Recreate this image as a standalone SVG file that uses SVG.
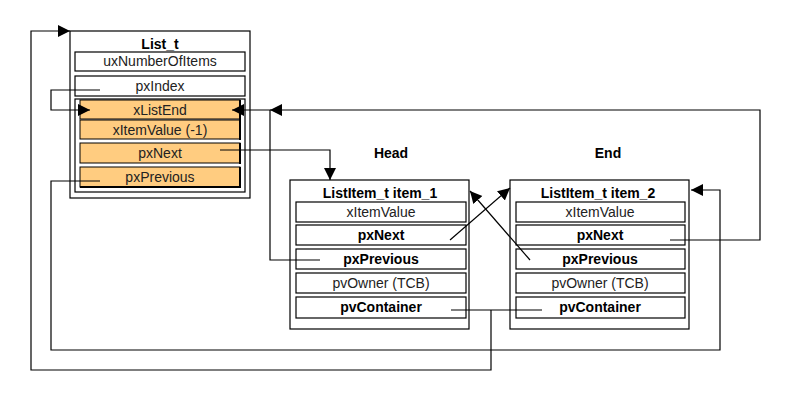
<svg xmlns="http://www.w3.org/2000/svg" width="800" height="410" viewBox="0 0 800 410">
<defs>
<marker id="ah" markerUnits="userSpaceOnUse" markerWidth="13" markerHeight="13" refX="12" refY="6" orient="auto">
<path d="M0,0 L12,6 L0,12 z" fill="#000"/>
</marker>
<style>
.box{fill:#fff;stroke:#000;stroke-width:1.2}
.row{fill:#fff;stroke:#000;stroke-width:1.2}
.orow{fill:#FFCC80;stroke:#000;stroke-width:1}
.shadow{stroke:#000;stroke-width:2;fill:none}
text{font-family:"Liberation Sans",Arial,sans-serif;font-size:14px;text-anchor:middle;fill:#000}
.b{font-weight:bold}
.r{fill:#222}
.c{fill:none;stroke:#000;stroke-width:1.2}
</style>
</defs>
<rect width="800" height="410" fill="#fff"/>

<g id="list_t">
<rect class="box" x="70" y="31" width="180" height="167"/>
<text class="b" x="160" y="49">List_t</text>
<rect class="row" x="75" y="52" width="170" height="19"/>
<text class="r" x="160" y="66">uxNumberOfItems</text>
<rect class="row" x="75" y="76" width="170" height="20"/>
<text class="r" x="160" y="91">pxIndex</text>
<rect class="row" x="75" y="99" width="170" height="93"/>
<g id="xListEnd">
<rect class="orow" x="80" y="100" width="160" height="19"/>
<line class="shadow" x1="240" y1="100" x2="240" y2="120"/>
<text class="r" x="160" y="114.5">xListEnd</text>
<rect class="orow" x="80" y="120" width="160" height="19"/>
<line class="shadow" x1="240" y1="120" x2="240" y2="140"/>
<text class="r" x="160" y="134.5">xItemValue (-1)</text>
<rect class="orow" x="80" y="143" width="160" height="20"/>
<line class="shadow" x1="240" y1="143" x2="240" y2="164"/>
<text class="r" x="160" y="158">pxNext</text>
<rect class="orow" x="80" y="167" width="160" height="20"/>
<line class="shadow" x1="240" y1="167" x2="240" y2="188"/>
<line class="shadow" x1="80" y1="187" x2="241" y2="187"/>
<text class="r" x="160" y="182">pxPrevious</text>
</g>
</g>

<text id="head" class="b" x="391" y="158">Head</text>
<text id="end" class="b" x="608" y="158">End</text>

<g id="item_1">
<rect class="box" x="290" y="180" width="179" height="149"/>
<text class="b" x="380" y="198">ListItem_t item_1</text>
<rect class="row" x="296" y="202" width="170" height="20"/>
<text class="r" x="381" y="217">xItemValue</text>
<rect class="row" x="296" y="225" width="170" height="20"/>
<text class="b" x="381" y="240">pxNext</text>
<rect class="row" x="296" y="249" width="170" height="20"/>
<text class="b" x="381" y="264">pxPrevious</text>
<rect class="row" x="296" y="273" width="170" height="20"/>
<text class="r" x="381" y="288">pvOwner (TCB)</text>
<rect class="row" x="296" y="297" width="170" height="21"/>
<text class="b" x="381" y="312">pvContainer</text>
</g>

<g id="item_2">
<rect class="box" x="510" y="180" width="179" height="149"/>
<text class="b" x="598" y="198">ListItem_t item_2</text>
<rect class="row" x="516" y="202" width="169" height="20"/>
<text class="r" x="600" y="217">xItemValue</text>
<rect class="row" x="516" y="225" width="169" height="20"/>
<text class="b" x="600" y="240">pxNext</text>
<rect class="row" x="516" y="249" width="169" height="20"/>
<text class="b" x="600" y="264">pxPrevious</text>
<rect class="row" x="516" y="273" width="169" height="20"/>
<text class="r" x="600" y="288">pvOwner (TCB)</text>
<rect class="row" x="516" y="297" width="169" height="21"/>
<text class="b" x="600" y="312">pvContainer</text>
</g>

<g id="connectors">
<path class="c" d="M100,90 H51 V110 H90" marker-end="url(#ah)"/>
<path class="c" d="M220,150 H330 V180" marker-end="url(#ah)"/>
<path class="c" d="M100,181 H51 V350 H720 V190 H691" marker-end="url(#ah)"/>
<path class="c" d="M320,260 H270 V110 H232" marker-end="url(#ah)"/>
<path class="c" d="M670,240 H760 V110 H270" marker-end="url(#ah)"/>
<path class="c" d="M450,240 L510,188" marker-end="url(#ah)"/>
<path class="c" d="M530,260 L470,191" marker-end="url(#ah)"/>
<path class="c" d="M451,310 H542"/>
<path class="c" d="M491,310 V370 H31 V31 H70" marker-end="url(#ah)"/>
</g>
</svg>
